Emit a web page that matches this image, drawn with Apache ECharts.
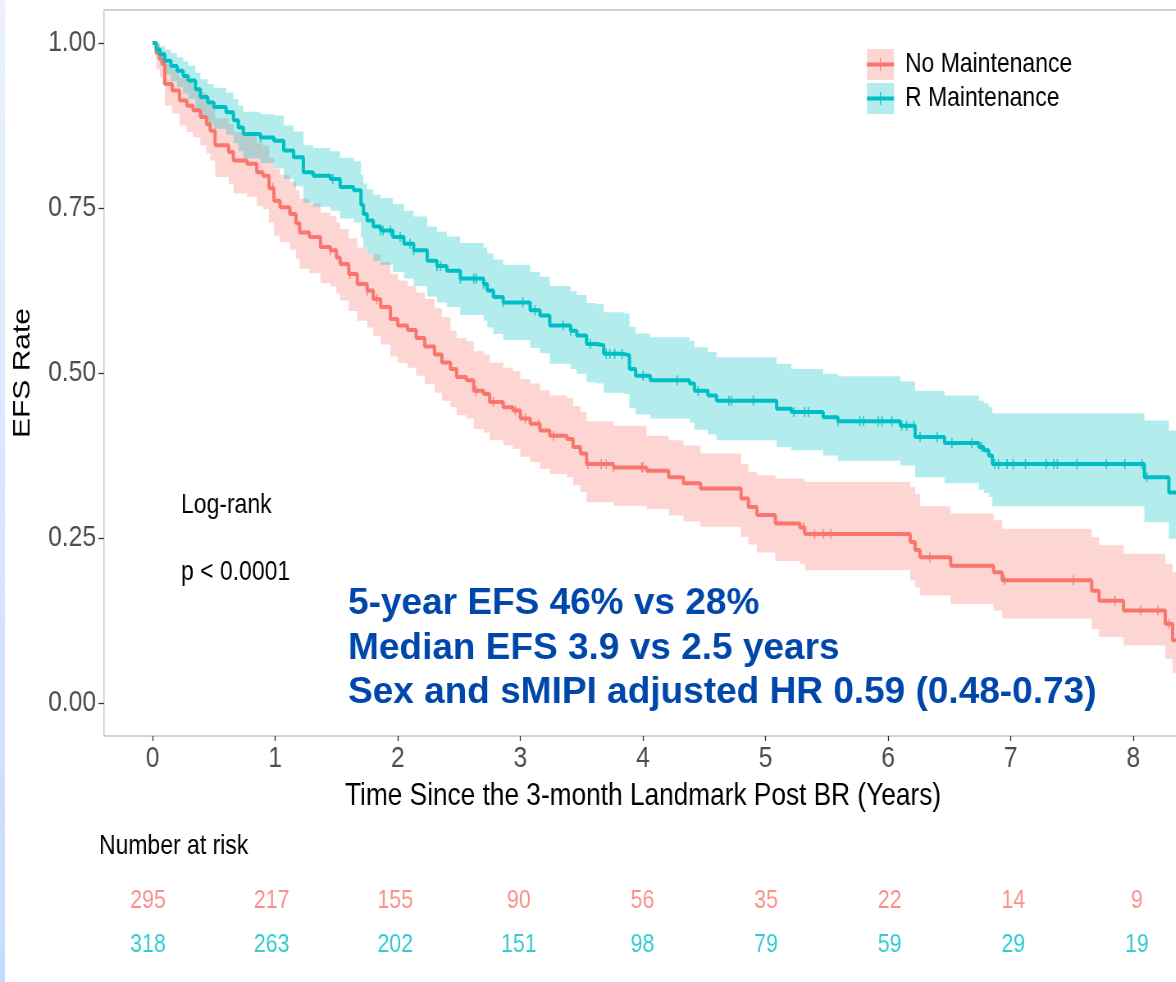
<!DOCTYPE html>
<html>
<head>
<meta charset="utf-8">
<script src="https://cdn.jsdelivr.net/npm/echarts@6/dist/echarts.min.js"></script>
<style>
  html, body { margin: 0; padding: 0; background: #ffffff; overflow: hidden; }
  #wrap { width: 1176px; height: 982px; overflow: hidden; position: relative; }
  #chart { width: 1434px; height: 982px; transform: scaleX(0.82); transform-origin: 0 0; position: absolute; left: 0; top: 0; }
</style>
</head>
<body>
<div id="wrap"><div id="chart"></div></div>
<script>
// ---------------- DATA ----------------
const years = [0, 1, 2, 3, 4, 5, 6, 7, 8];
const yTicks = [0, 0.25, 0.5, 0.75, 1];

// No Maintenance (step times, survival, lower CI, upper CI)
const noTime = [0,0.03,0.06,0.08,0.10,0.16,0.22,0.28,0.33,0.39,0.44,0.47,0.51,0.62,0.66,0.77,0.85,0.90,0.95,0.99,
  1.04,1.12,1.17,1.20,1.28,1.37,1.45,1.50,1.53,1.60,1.67,1.75,1.80,1.86,1.94,2.00,2.08,2.15,2.22,2.30,
  2.36,2.43,2.48,2.56,2.62,2.70,2.75,2.86,2.94,3.00,3.08,3.16,3.24,3.38,3.43,3.49,3.54,3.76,4.03,4.21,
  4.33,4.47,4.80,4.86,4.93,5.08,5.28,5.32,6.18,6.22,6.26,6.51,6.86,6.93,7.66,7.72,7.92,8.26,8.32,8.45];
const noSurv = [1.000,0.985,0.975,0.968,0.938,0.928,0.913,0.905,0.898,0.888,0.877,0.867,0.845,0.835,0.822,0.817,0.804,0.799,0.780,0.761,
  0.751,0.741,0.727,0.713,0.706,0.691,0.686,0.675,0.665,0.650,0.635,0.625,0.612,0.600,0.582,0.572,0.565,0.553,0.540,0.528,
  0.516,0.506,0.494,0.489,0.473,0.468,0.456,0.448,0.443,0.431,0.423,0.413,0.405,0.400,0.388,0.378,0.362,0.357,0.352,0.342,
  0.333,0.325,0.310,0.297,0.285,0.272,0.266,0.256,0.244,0.232,0.221,0.208,0.198,0.186,0.170,0.155,0.140,0.120,0.095,0.095];
const noLower = [1.000,0.960,0.948,0.937,0.905,0.893,0.875,0.865,0.857,0.845,0.833,0.822,0.797,0.786,0.772,0.767,0.753,0.748,0.728,0.708,
  0.698,0.687,0.673,0.658,0.651,0.636,0.631,0.620,0.610,0.594,0.579,0.569,0.556,0.543,0.525,0.515,0.508,0.496,0.483,0.470,
  0.458,0.448,0.436,0.431,0.415,0.410,0.398,0.390,0.385,0.373,0.365,0.355,0.347,0.342,0.330,0.320,0.304,0.299,0.294,0.284,
  0.275,0.267,0.252,0.240,0.228,0.215,0.211,0.201,0.186,0.175,0.163,0.150,0.140,0.128,0.112,0.100,0.087,0.067,0.045,0.045];
const noUpper = [1.000,0.997,0.992,0.988,0.968,0.960,0.947,0.940,0.933,0.925,0.915,0.906,0.886,0.877,0.865,0.860,0.848,0.844,0.826,0.809,
  0.800,0.790,0.777,0.764,0.757,0.743,0.738,0.728,0.718,0.704,0.690,0.680,0.680,0.668,0.650,0.640,0.632,0.622,0.612,0.598,
  0.585,0.564,0.553,0.548,0.533,0.528,0.516,0.508,0.503,0.491,0.484,0.474,0.466,0.462,0.450,0.441,0.427,0.420,0.405,0.398,
  0.390,0.378,0.362,0.350,0.345,0.340,0.340,0.335,0.327,0.317,0.298,0.287,0.277,0.264,0.251,0.239,0.226,0.211,0.198,0.198];
const noCensor = [0.98,1.45,1.61,1.75,1.83,2.64,2.78,2.96,3.04,3.15,3.27,3.55,3.66,3.70,3.76,3.99,4.00,
  5.31,5.40,5.47,5.53,6.34,6.95,7.51,7.85,8.06,8.20,8.29];

// R Maintenance
const rTime = [0,0.03,0.06,0.10,0.15,0.20,0.25,0.29,0.35,0.39,0.45,0.50,0.60,0.66,0.70,0.74,0.88,0.99,1.07,1.15,
  1.23,1.31,1.45,1.53,1.64,1.70,1.72,1.75,1.80,1.86,1.96,2.05,2.13,2.24,2.32,2.40,2.51,2.70,2.73,2.78,
  2.86,3.08,3.16,3.24,3.41,3.46,3.54,3.62,3.68,3.84,3.89,3.94,4.06,4.38,4.42,4.53,4.60,5.09,5.21,5.47,
  5.59,6.10,6.22,6.46,6.74,6.78,6.82,6.85,8.09,8.29,8.45];
const rSurv = [1.000,0.990,0.983,0.973,0.965,0.958,0.950,0.943,0.930,0.918,0.910,0.903,0.895,0.883,0.872,0.862,0.857,0.852,0.837,0.827,
  0.804,0.799,0.794,0.782,0.777,0.755,0.741,0.731,0.722,0.716,0.706,0.696,0.686,0.670,0.662,0.655,0.643,0.635,0.625,0.615,
  0.607,0.595,0.587,0.572,0.564,0.557,0.544,0.542,0.529,0.527,0.506,0.496,0.489,0.484,0.473,0.466,0.458,0.446,0.441,0.433,
  0.427,0.420,0.403,0.394,0.388,0.383,0.375,0.362,0.342,0.319,0.319];
const rLower = [1.000,0.975,0.965,0.952,0.942,0.933,0.923,0.915,0.900,0.887,0.878,0.870,0.861,0.848,0.836,0.825,0.818,0.810,0.794,0.783,
  0.758,0.752,0.746,0.734,0.728,0.705,0.690,0.680,0.670,0.664,0.653,0.643,0.632,0.616,0.607,0.600,0.588,0.579,0.569,0.559,
  0.550,0.538,0.530,0.514,0.506,0.499,0.486,0.484,0.470,0.468,0.447,0.437,0.431,0.425,0.414,0.407,0.398,0.388,0.383,0.375,
  0.367,0.360,0.342,0.333,0.323,0.318,0.312,0.298,0.274,0.249,0.249];
const rUpper = [1.000,1.000,0.995,0.990,0.985,0.978,0.972,0.966,0.955,0.945,0.938,0.932,0.925,0.915,0.905,0.896,0.892,0.890,0.875,0.866,
  0.845,0.841,0.836,0.826,0.821,0.800,0.787,0.778,0.770,0.765,0.756,0.746,0.737,0.722,0.714,0.707,0.697,0.690,0.681,0.672,
  0.664,0.653,0.646,0.632,0.624,0.618,0.606,0.604,0.592,0.590,0.570,0.560,0.554,0.549,0.539,0.532,0.524,0.514,0.506,0.499,
  0.495,0.487,0.473,0.466,0.458,0.454,0.448,0.439,0.428,0.413,0.413];
const rCensor = [0.88,1.47,1.86,1.88,1.94,2.02,2.10,2.13,2.32,2.35,2.51,2.62,2.64,2.70,2.86,3.02,3.12,3.35,3.41,3.57,
  3.70,3.73,3.77,3.83,4.00,4.28,4.45,4.70,4.72,4.90,5.23,5.32,5.35,5.59,5.77,5.80,5.92,5.95,6.03,6.11,
  6.15,6.21,6.26,6.40,6.52,6.68,6.76,6.87,6.90,6.97,7.02,7.12,7.29,7.35,7.38,7.54,7.78,7.93,8.07,8.11];

// Number at risk
const riskNo = [295, 217, 155, 90, 56, 35, 22, 14, 9];
const riskR  = [318, 263, 202, 151, 98, 79, 59, 29, 19];

const statLines = ['Log-rank', 'p < 0.0001'];
const noteLines = ['5-year EFS 46% vs 28%', 'Median EFS 3.9 vs 2.5 years', 'Sex and sMIPI adjusted HR 0.59 (0.48-0.73)'];

// ---------------- STYLE ----------------
// The whole chart is drawn 1/K wider and squeezed horizontally by K (as in the reference image).
const K = 0.82;
const W = 1434;
const RED = '#F8766D', TEAL = '#00BFC4';
const RED_FILL = 'rgba(248,118,109,0.3)', TEAL_FILL = 'rgba(0,191,196,0.3)';
const SANS = "'Liberation Sans', Arial, Helvetica, sans-serif";
const X_MIN = -0.396, X_MAX = 8.397;
const px = v => v / K; // horizontal reference pixels -> canvas pixels

function stepValue(times, vals, t) {
  let v = vals[0];
  for (let i = 0; i < times.length; i++) { if (times[i] <= t) v = vals[i]; else break; }
  return v;
}

function bandSeries(name, times, lo, hi, fill) {
  return {
    type: 'custom', name: name, xAxisIndex: 0, yAxisIndex: 0, clip: true, silent: true, z: 1,
    data: times.map((t, i) => [t, lo[i], hi[i]]),
    encode: { x: 0, y: [1, 2] },
    renderItem: function (params, api) {
      if (params.dataIndex !== 0) return null;
      const pts = [];
      const n = times.length;
      for (let i = 0; i < n; i++) {
        pts.push(api.coord([times[i], hi[i]]));
        if (i < n - 1) pts.push(api.coord([times[i + 1], hi[i]]));
      }
      for (let i = n - 1; i >= 0; i--) {
        if (i < n - 1) pts.push(api.coord([times[i + 1], lo[i]]));
        pts.push(api.coord([times[i], lo[i]]));
      }
      return { type: 'polygon', shape: { points: pts }, style: { fill: fill, stroke: null, lineWidth: 0 } };
    }
  };
}

function lineSeries(name, times, surv, color) {
  return {
    type: 'line', name: name, xAxisIndex: 0, yAxisIndex: 0, step: 'end', symbol: 'none', clip: true, z: 3,
    data: times.map((t, i) => [t, surv[i]]),
    lineStyle: { color: color, width: 4 }, itemStyle: { color: color }, silent: true
  };
}

function censorSeries(name, cens, times, surv, color) {
  return {
    type: 'scatter', name: name, xAxisIndex: 0, yAxisIndex: 0, symbol: 'rect', symbolSize: [px(1.3), 10], z: 4, silent: true,
    data: cens.map(t => [t, stepValue(times, surv, t)]),
    itemStyle: { color: color, opacity: 0.85 }
  };
}

function riskSeries(name, counts, yPos, color) {
  return {
    type: 'scatter', name: name, xAxisIndex: 1, yAxisIndex: 1, symbolSize: 0.1, silent: true,
    itemStyle: { color: 'rgba(0,0,0,0)' },
    data: years.map((t, i) => [t, yPos, counts[i]]),
    label: { show: true, position: 'inside', formatter: p => String(p.value[2]), fontSize: 26, fontFamily: SANS, color: color }
  };
}

const chart = echarts.init(document.getElementById('chart'), null, { renderer: 'canvas', width: W, height: 982 });

const legendIconLine = 'path://M0,0 M33,31 M0,13.5 L33,13.5 L33,17.5 L0,17.5 Z M15.9,9 L17.1,9 L17.1,22 L15.9,22 Z';

const option = {
  backgroundColor: '#ffffff',
  animation: false,
  grid: [
    { left: px(104), top: 10, width: px(1078), height: 726, show: true, borderColor: '#C2C2C2', borderWidth: 1.3,
      backgroundColor: 'transparent', containLabel: false, outerBoundsMode: 'none' },
    { left: px(99), top: 901, width: px(1087), height: 44, show: false, containLabel: false, outerBoundsMode: 'none' }
  ],
  xAxis: [
    { gridIndex: 0, type: 'value', min: X_MIN, max: X_MAX, position: 'bottom',
      axisLine: { show: false, onZero: false },
      axisTick: { show: true, customValues: years, length: 5, lineStyle: { color: '#333333', width: 1.3 } },
      axisLabel: { customValues: years, fontSize: 30, color: '#4D4D4D', fontFamily: SANS, margin: 8 },
      splitLine: { show: false },
      name: 'Time Since the 3-month Landmark Post BR (Years)', nameLocation: 'middle', nameGap: 44, nameMoveOverlap: false,
      nameTextStyle: { fontSize: 32, color: '#000000', fontFamily: SANS } },
    { gridIndex: 1, type: 'value', min: X_MIN, max: X_MAX, show: false }
  ],
  yAxis: [
    { gridIndex: 0, type: 'value', min: -0.05, max: 1.05, position: 'left',
      axisLine: { show: false, onZero: false },
      axisTick: { show: true, customValues: yTicks, length: px(5.5), lineStyle: { color: '#333333', width: 1.3 } },
      axisLabel: { customValues: yTicks, formatter: v => Number(v).toFixed(2), fontSize: 30, color: '#4D4D4D', fontFamily: SANS, margin: px(8) },
      splitLine: { show: false },
      name: 'EFS Rate', nameLocation: 'middle', nameGap: 84, nameRotate: 90, nameMoveOverlap: false,
      nameTextStyle: { fontSize: 30, color: '#000000', fontFamily: SANS } },
    { gridIndex: 1, type: 'value', min: 0, max: 1, show: false }
  ],
  legend: [
    { show: true, orient: 'vertical', left: px(867), top: 49, padding: 0, itemWidth: px(27), itemHeight: 31, itemGap: 3, selectedMode: false,
      data: [
        { name: 'No Maintenance', icon: 'rect', itemStyle: { color: RED_FILL, borderWidth: 0 } },
        { name: 'R Maintenance', icon: 'rect', itemStyle: { color: TEAL_FILL, borderWidth: 0 } }
      ],
      textStyle: { fontSize: 28, color: '#000000', fontFamily: SANS, padding: [0, 0, 0, 8.4] } },
    { show: true, orient: 'vertical', left: px(867), top: 49, padding: 0, itemWidth: px(27), itemHeight: 31, itemGap: 3, selectedMode: false,
      data: [
        { name: 'No Maintenance', icon: legendIconLine, itemStyle: { color: RED, borderWidth: 0 } },
        { name: 'R Maintenance', icon: legendIconLine, itemStyle: { color: TEAL, borderWidth: 0 } }
      ],
      textStyle: { fontSize: 28, color: 'rgba(0,0,0,0)', fontFamily: SANS, padding: [0, 0, 0, 8.4] } }
  ],
  graphic: [
    { type: 'rect', left: 0, top: 0, z: 100, shape: { width: px(5), height: 982 },
      style: { fill: new echarts.graphic.LinearGradient(0, 0, 0, 1, [
        { offset: 0, color: '#EDF1FD' }, { offset: 1, color: '#C8DCFF' }]) } },
    { type: 'text', x: px(181), y: 505, style: { text: statLines[0], fontSize: 28, fontFamily: SANS, fill: '#000000', verticalAlign: 'middle' } },
    { type: 'text', x: px(181), y: 572, style: { text: statLines[1], fontSize: 28, fontFamily: SANS, fill: '#000000', verticalAlign: 'middle' } },
    { type: 'text', x: px(348), y: 604, z: 50, scaleX: 1 / K, style: { text: noteLines[0], fontSize: 37, fontWeight: 'bold', fontFamily: SANS, fill: '#0047AB', verticalAlign: 'middle' } },
    { type: 'text', x: px(348), y: 649, z: 50, scaleX: 1 / K, style: { text: noteLines[1], fontSize: 37, fontWeight: 'bold', fontFamily: SANS, fill: '#0047AB', verticalAlign: 'middle' } },
    { type: 'text', x: px(348), y: 693, z: 50, scaleX: 1 / K, style: { text: noteLines[2], fontSize: 37, fontWeight: 'bold', fontFamily: SANS, fill: '#0047AB', verticalAlign: 'middle' } },
    { type: 'text', x: px(99), y: 846, style: { text: 'Number at risk', fontSize: 28, fontFamily: SANS, fill: '#000000', verticalAlign: 'middle' } }
  ],
  series: [
    bandSeries('noBand', noTime, noLower, noUpper, RED_FILL),
    bandSeries('rBand', rTime, rLower, rUpper, TEAL_FILL),
    lineSeries('No Maintenance', noTime, noSurv, RED),
    lineSeries('R Maintenance', rTime, rSurv, TEAL),
    censorSeries('noCens', noCensor, noTime, noSurv, RED),
    censorSeries('rCens', rCensor, rTime, rSurv, TEAL),
    riskSeries('riskNo', riskNo, 1, '#F8766D'),
    riskSeries('riskR', riskR, 0, '#00BFC4')
  ]
};

chart.setOption(option);
</script>
</body>
</html>
